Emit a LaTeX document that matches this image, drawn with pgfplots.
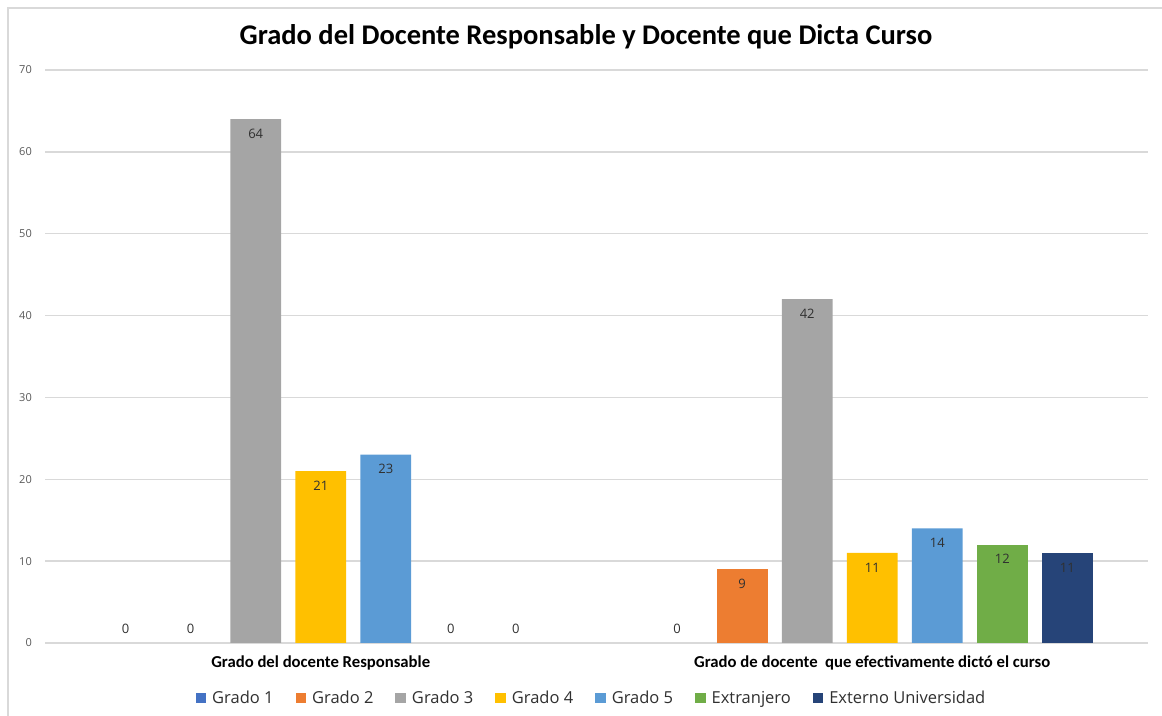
\documentclass[border=0pt]{standalone}
\usepackage{pgfplots}
\pgfplotsset{compat=1.18}
\usepackage{fontspec}
\setmainfont{Open Sans}
\newfontfamily\calibri{Carlito}
\definecolor{gA}{HTML}{4472C4}
\definecolor{gB}{HTML}{ED7D31}
\definecolor{gC}{HTML}{A5A5A5}
\definecolor{gD}{HTML}{FFC000}
\definecolor{gE}{HTML}{5B9BD5}
\definecolor{gF}{HTML}{70AD47}
\definecolor{gG}{HTML}{264478}
\definecolor{gridc}{HTML}{D9D9D9}
\definecolor{tickc}{HTML}{595959}
\definecolor{labc}{HTML}{303030}
\begin{document}
\begin{tikzpicture}[x=1pt,y=1pt]
\useasboundingbox (0,0) rectangle (1162,715);
\draw[gridc, line width=1.2pt] (8,707) rectangle (1220,-40);
\node[font=\calibri\fontsize{28.5}{32}\selectfont\bfseries] at (586,678) {Grado del Docente Responsable y Docente que Dicta Curso};
\begin{axis}[
  at={(45pt,72pt)}, anchor=south west,
  scale only axis, width=1103pt, height=573pt,
  xmin=-0.5, xmax=1.5, ymin=0, ymax=70,
  ytick={0,10,...,70},
  xtick={0,1},
  xticklabels={Grado del docente Responsable, Grado de docente\ \ que efectivamente dictó el curso},
  axis lines*=left,
  axis line style={draw=none},
  major tick length=0pt,
  ymajorgrids,
  grid style={gridc, line width=1.3pt},
  /pgf/number format/assume math mode=true,
  yticklabel style={font=\fontsize{11}{13}\selectfont, color=tickc, anchor=east, inner sep=0pt, xshift=-13pt},
  xticklabel style={font=\calibri\bfseries\fontsize{16.7}{19}\selectfont, color=black, anchor=base, inner sep=0pt, yshift=-25pt},
  ybar,
  bar width=0.0918,
  legend image code/.code={\fill[#1] (0pt,-5pt) rectangle (10.5pt,5.5pt);},
  legend columns=7,
  legend style={draw=none, at={(0.4955,-0.096)}, anchor=center,
    font=\fontsize{16.5}{19}\selectfont, text=labc,
    /tikz/every even column/.append style={column sep=20pt},
    /tikz/every odd column/.append style={column sep=4pt}},
  nodes near coords,
  visualization depends on={ifthenelse(y>0.5,-14.5,14.5) \as \myshift},
  every node near coord/.append style={font=\fontsize{13}{15}\selectfont, color=labc, anchor=center, yshift=\myshift pt},
]
% Grado 1 (all zero)
\addlegendimage{fill=gA, draw=none}
\addlegendentry{Grado 1}
\addplot[fill=none, draw=none, bar shift=-0.3537, forget plot] coordinates {(0,0) (1,0)};
% Grado 2
\addplot[fill=gB, draw=none, bar shift=-0.2358] coordinates {(1,9)};
\addlegendentry{Grado 2}
\addplot[fill=none, draw=none, bar shift=-0.2358, forget plot] coordinates {(0,0)};
% Grado 3
\addplot[fill=gC, draw=none, bar shift=-0.1179] coordinates {(0,64) (1,42)};
\addlegendentry{Grado 3}
% Grado 4
\addplot[fill=gD, draw=none, bar shift=0] coordinates {(0,21) (1,11)};
\addlegendentry{Grado 4}
% Grado 5
\addplot[fill=gE, draw=none, bar shift=0.1179] coordinates {(0,23) (1,14)};
\addlegendentry{Grado 5}
% Extranjero
\addplot[fill=gF, draw=none, bar shift=0.2358] coordinates {(1,12)};
\addlegendentry{Extranjero}
\addplot[fill=none, draw=none, bar shift=0.2358, forget plot] coordinates {(0,0)};
% Externo Universidad
\addplot[fill=gG, draw=none, bar shift=0.3537] coordinates {(1,11)};
\addlegendentry{Externo Universidad}
\addplot[fill=none, draw=none, bar shift=0.3537, forget plot] coordinates {(0,0)};
\end{axis}
\end{tikzpicture}
\end{document}
